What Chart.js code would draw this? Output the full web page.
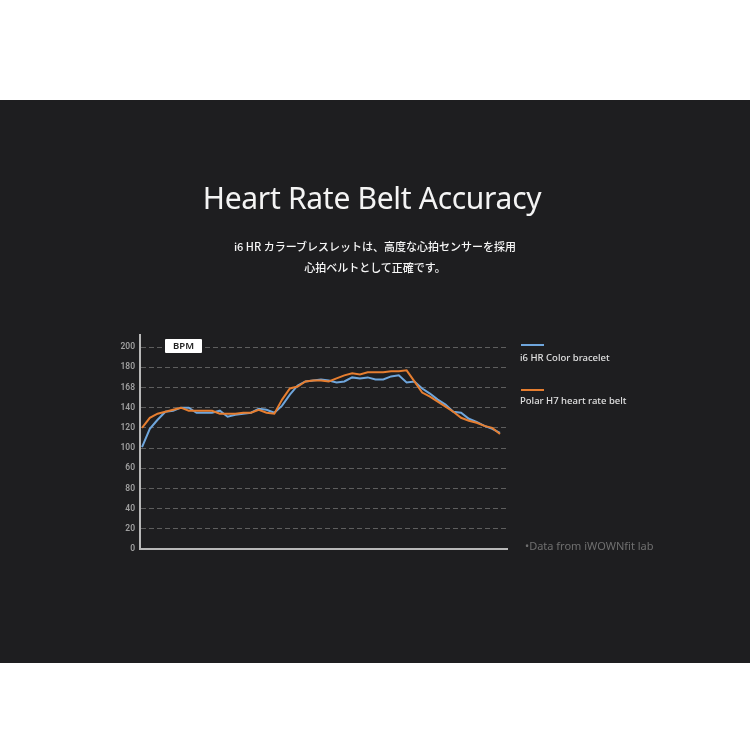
<!DOCTYPE html>
<html>
<head>
<meta charset="utf-8">
<script src="https://cdn.jsdelivr.net/npm/chart.js@4/dist/chart.umd.min.js"></script>
<style>
  html, body { margin: 0; padding: 0; background: #fff; }
  #page { position: relative; width: 750px; height: 750px; overflow: hidden; background: #fff; }
  #panel { position: absolute; left: 0; top: 100px; width: 750px; height: 563px; background: #1e1e20; }
  #chart { position: absolute; left: 0; top: 0; }
  .txt { position: absolute; white-space: nowrap; }
  #title { left: -3px; width: 750px; top: 177px; text-align: center; color: #f4f4f4;
           font: 400 30px "Noto Sans", sans-serif; letter-spacing: -0.3px; }
  .sub { left: 0; width: 750px; text-align: center; color: #f6f6f6;
         font: 500 11px "Noto Sans CJK JP", sans-serif; }
  #bpm { left: 165px; top: 339px; width: 37px; height: 14px; background: #fff; border-radius: 1px;
         color: #222; font: 600 9.5px "Noto Sans", sans-serif; text-align: center; line-height: 14px; }
  .lg-line { position: absolute; left: 521px; width: 23px; height: 2px; }
  .lg-text { left: 520px; color: #e0e0e0; font: 500 9.5px "Noto Sans", sans-serif; }
  #note { left: 525px; top: 538px; color: #6f6f6f; font: 400 11px "Noto Sans", sans-serif; }
</style>
</head>
<body>
<div id="page">
  <div id="panel"></div>
  <canvas id="chart" width="750" height="750"></canvas>
  <div class="txt" id="title">Heart Rate Belt Accuracy</div>
  <div class="txt sub" style="top:238px">i6 HR カラーブレスレットは、高度な心拍センサーを採用</div>
  <div class="txt sub" style="top:259px">心拍ベルトとして正確です。</div>
  <div class="txt" id="bpm">BPM</div>
  <div class="lg-line" style="top:344px; background:#6fa6dc"></div>
  <div class="txt lg-text" style="top:351px">i6 HR Color bracelet</div>
  <div class="lg-line" style="top:389px; background:#e67e30"></div>
  <div class="txt lg-text" style="top:394px">Polar H7 heart rate belt</div>
  <div class="txt" id="note">•Data from iWOWNfit lab</div>
</div>
<script>
// heart rate samples (BPM)
const braceletBpm = [101, 119, 128, 136, 137, 140, 140, 135, 135, 135, 137, 131, 133, 134, 135, 139,
  138, 135, 142, 153, 162, 166, 167, 168, 167, 165, 166, 170, 169, 170, 168, 168, 171, 172, 165, 166,
  159, 154, 148, 143, 136, 135, 129, 126, 122, 119, 115];
const beltBpm = [120, 130, 134, 136, 138, 140, 137, 137, 137, 137, 134, 134, 134, 135, 135, 138,
  135, 134, 148, 159, 161, 166, 167, 167, 166, 169, 172, 174, 173, 175, 175, 175, 176, 176, 177, 166,
  155, 151, 146, 141, 136, 130, 127, 125, 122, 120, 114];
// y tick labels exactly as printed in the picture (0..200 step 20)
const yTickLabels = ['0', '20', '40', '80', '60', '100', '120', '140', '168', '180', '200'];

const toPoints = arr => arr.map((v, i) => ({ x: i, y: v }));

new Chart(document.getElementById('chart'), {
  type: 'line',
  data: {
    datasets: [
      {
        label: 'Polar H7 heart rate belt',
        data: toPoints(beltBpm),
        borderColor: '#e67e30',
        borderWidth: 2,
        pointRadius: 0,
        tension: 0,
      },
      {
        label: 'i6 HR Color bracelet',
        data: toPoints(braceletBpm),
        borderColor: '#6fa6dc',
        borderWidth: 2,
        pointRadius: 0,
        tension: 0,
      }
    ]
  },
  options: {
    responsive: false,
    animation: false,
    layout: { padding: { left: 110, top: 335, right: 243, bottom: 201 } },
    plugins: { legend: { display: false }, tooltip: { enabled: false } },
    scales: {
      x: {
        type: 'linear',
        min: -0.26,
        max: 46.9,
        grid: { display: false },
        ticks: { display: false },
        border: { display: true, color: '#b8b8b8', width: 2 },
        afterFit: s => { s.height = 0; }
      },
      y: {
        min: 0,
        max: 212,
        afterBuildTicks: s => { s.ticks = s.ticks.filter(t => t.value <= 200 || t.value === 212); },
        ticks: {
          stepSize: 20,
          padding: 5,
          color: '#9f9f9f',
          font: { family: 'Roboto', size: 8.5, weight: '600' },
          callback: v => (v <= 200 ? yTickLabels[v / 20] : '')
        },
        grid: {
          color: c => (c.tick && c.tick.value > 0 && c.tick.value <= 200 ? '#5e5e5e' : 'rgba(0,0,0,0)'),
          lineWidth: 1,
          drawTicks: false
        },
        border: { display: true, color: '#b8b8b8', width: 2, dash: [5, 3] },
        afterFit: s => { s.width = 30; }
      }
    }
  }
});
</script>
</body>
</html>
